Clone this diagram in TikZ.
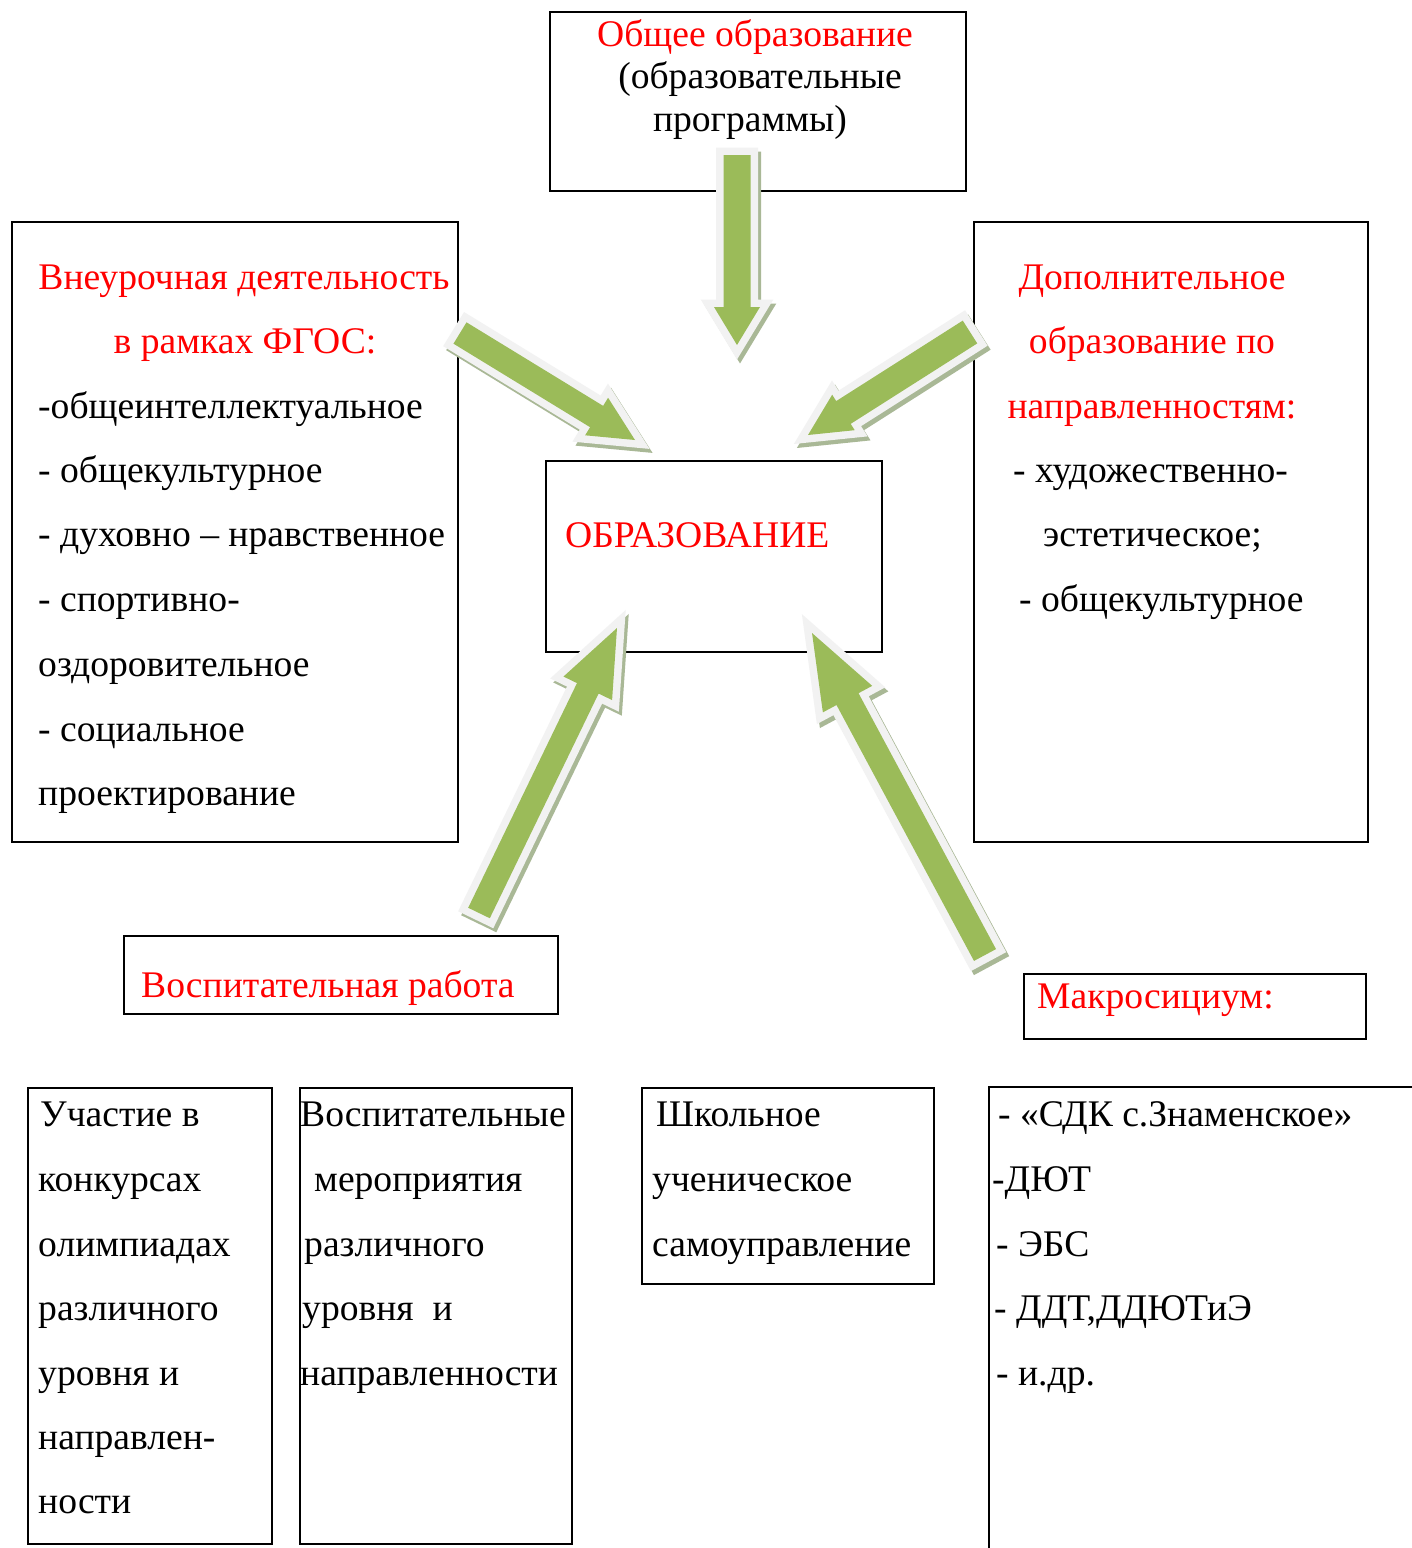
\documentclass[tikz,border=0pt]{standalone}
\usepackage{fontspec}
\setmainfont{Liberation Serif}
\definecolor{txtred}{HTML}{FF0000}
\definecolor{argreen}{HTML}{9BBB59}
\definecolor{arborder}{HTML}{F2F2F2}
\definecolor{arshadow}{HTML}{A9B896}
\newcommand\bodyfont{\fontsize{37.6}{45}\selectfont}
\tikzset{
  box/.style={draw=black, line width=2pt, anchor=north west, inner sep=0pt},
  txt/.style={anchor=base west, inner sep=0pt, font=\bodyfont},
  ctxt/.style={anchor=base, inner sep=0pt, font=\bodyfont},
  red/.style={text=txtred},
  arshad/.style={draw=arshadow, fill=arshadow, line width=15pt, line join=miter, miter limit=20},
  arbord/.style={draw=arborder, fill=arborder, line width=15pt, line join=miter, miter limit=20},
  arfill/.style={fill=argreen},
}
% #1,#2 tail ; #3,#4 tip ; #5 half shaft ; #6 half head ; #7 head length
\newcommand\fatarrow[7]{%
  \pgfmathsetmacro\faAng{atan2(-(#4-#2),#3-#1)}%
  \pgfmathsetmacro\faLen{veclen(#3-#1,#4-#2)}%
  \pgfmathsetmacro\faB{\faLen-#7}%
  \begin{scope}[shift={(#1+3,#2+4)}, rotate=\faAng]
    \path[arshad] (0,#5) -- (\faB,#5) -- (\faB,#6) -- (\faLen,0) -- (\faB,-#6) -- (\faB,-#5) -- (0,-#5) -- cycle;
  \end{scope}
  \begin{scope}[shift={(#1,#2)}, rotate=\faAng]
    \path[arbord] (0,#5) -- (\faB,#5) -- (\faB,#6) -- (\faLen,0) -- (\faB,-#6) -- (\faB,-#5) -- (0,-#5) -- cycle;
    \path[arfill] (0,#5) -- (\faB,#5) -- (\faB,#6) -- (\faLen,0) -- (\faB,-#6) -- (\faB,-#5) -- (0,-#5) -- cycle;
  \end{scope}
}
\begin{document}
\begin{tikzpicture}[x=1pt, y=-1pt]
\useasboundingbox[fill=white] (0,0) rectangle (1412,1548);

% boxes
\node[box, minimum width=416pt, minimum height=179pt] (topbox) at (549,11) {};
\node[box, minimum width=446pt, minimum height=620pt] (leftbox) at (11,221) {};
\node[box, minimum width=394pt, minimum height=620pt] (rightbox) at (973,221) {};
\node[box, minimum width=336pt, minimum height=191pt] (center) at (545,460) {};
\node[box, minimum width=434pt, minimum height=78pt] (vosp) at (123,935) {};
\node[box, minimum width=342pt, minimum height=65pt] (makro) at (1023,973) {};
\node[box, minimum width=244pt, minimum height=456pt] (b1) at (27,1087) {};
\node[box, minimum width=272pt, minimum height=456pt] (b2) at (299,1087) {};
\node[box, minimum width=292pt, minimum height=196pt] (b3) at (641,1087) {};
\coordinate (b4tr) at (1412,1087);
\coordinate (b4tl) at (989,1087);
\coordinate (b4bl) at (989,1548);
\draw[black, line width=2pt] (b4tr) -- (b4tl) -- (b4bl);

% top box text
\node[ctxt, red] (t1) at (755,46) {Общее образование};
\node[ctxt] (t2) at (760,88) {(образовательные};
\node[ctxt] (t3) at (750,131) {программы)};

% left box text
\node[ctxt, red] (l1) at (244,289) {Внеурочная деятельность};
\node[ctxt, red] (l2) at (245,353) {в рамках ФГОС:};
\node[txt] (l3) at (38,418) {-общеинтеллектуальное};
\node[txt] (l4) at (38,482) {- общекультурное};
\node[txt] (l5) at (38,546) {- духовно – нравственное};
\node[txt] (l6) at (38,611) {- спортивно-};
\node[txt] (l7) at (38,676) {оздоровительное};
\node[txt] (l8) at (38,741) {- социальное};
\node[txt] (l9) at (38,805) {проектирование};

% right box text
\node[ctxt, red] (r1) at (1152,289) {Дополнительное};
\node[ctxt, red] (r2) at (1152,353) {образование по};
\node[ctxt, red] (r3) at (1152,418) {направленностям:};
\node[txt] (r4) at (1013,482) {- художественно-};
\node[txt] (r5) at (1043,546) {эстетическое;};
\node[txt] (r6) at (1019,611) {- общекультурное};

% centre
\node[txt, red] (c1) at (565,547) {ОБРАЗОВАНИЕ};

\node[txt, red] (v1) at (141,997) {Воспитательная работа};
\node[txt, red] (m1) at (1037,1008) {Макросициум:};

% bottom boxes
\node[txt] (p1) at (40,1126) {Участие в};
\node[txt] (p2) at (38,1191) {конкурсах};
\node[txt] (p3) at (38,1256) {олимпиадах};
\node[txt] (p4) at (38,1320) {различного};
\node[txt] (p5) at (38,1385) {уровня и};
\node[txt] (p6) at (38,1449) {направлен-};
\node[txt] (p7) at (38,1513) {ности};

\node[txt] (q1) at (300,1126) {Воспитательные};
\node[txt] (q2) at (314,1191) {мероприятия};
\node[txt] (q3) at (304,1256) {различного};
\node[txt] (q4) at (302,1320) {уровня\ \ и};
\node[txt] (q5) at (300,1385) {направленности};

\node[txt] (s1) at (656,1126) {Школьное};
\node[txt] (s2) at (652,1191) {ученическое};
\node[txt] (s3) at (652,1256) {самоуправление};

\node[txt] (k1) at (998,1126) {- «СДК с.Знаменское»};
\node[txt] (k2) at (992,1191) {-ДЮТ};
\node[txt] (k3) at (996,1256) {- ЭБС};
\node[txt] (k4) at (994,1320) {- ДДТ,ДДЮТиЭ};
\node[txt] (k5) at (996,1385) {- и.др.};

% arrows
\fatarrow{737}{155}{737}{345}{13.5}{23}{38}
\fatarrow{460}{333}{635}{440}{12.5}{22}{45}
\fatarrow{970}{332}{808}{435}{13.5}{21}{42}
\fatarrow{479}{913}{617}{628}{12}{27}{67}
\fatarrow{985}{955}{812}{633}{12.5}{28}{75}
\end{tikzpicture}
\end{document}
